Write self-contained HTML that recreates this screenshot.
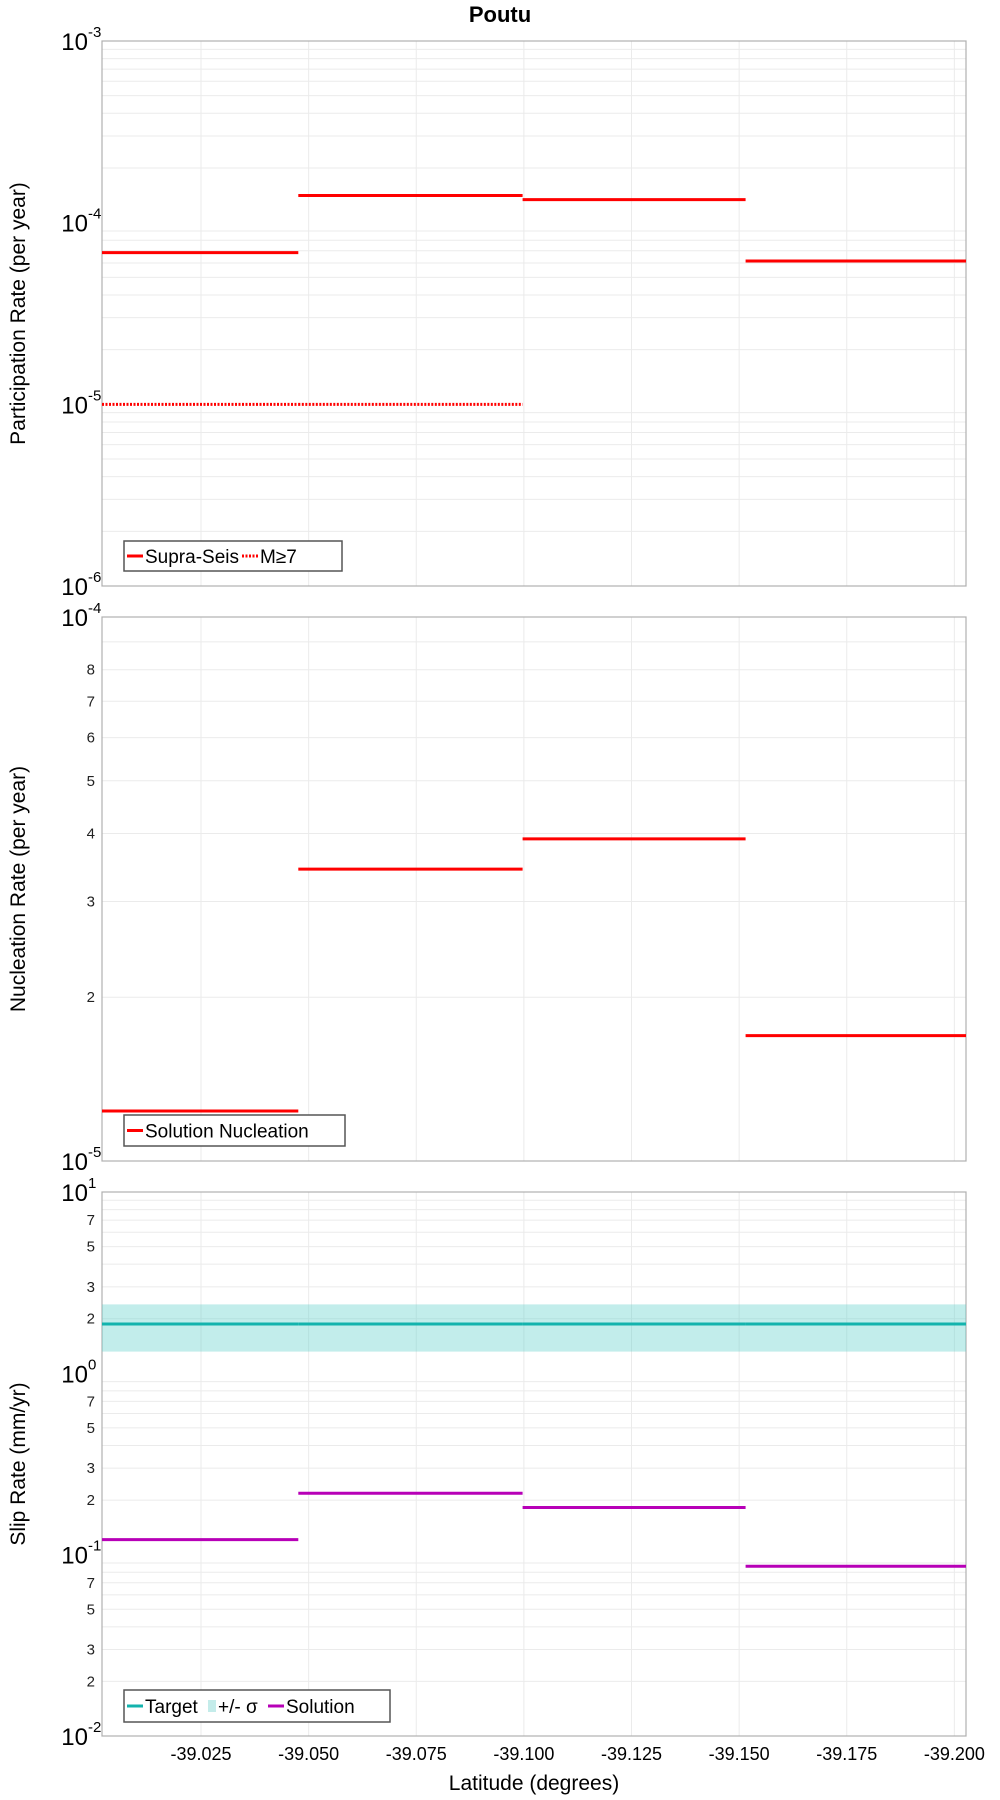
<!DOCTYPE html>
<html><head><meta charset="utf-8"><style>
body{margin:0;background:#fff;}
svg{display:block;font-family:"Liberation Sans","DejaVu Sans",sans-serif;}
</style></head><body>
<svg id="chart" width="1000" height="1800" viewBox="0 0 1000 1800"></svg>
<script>
const latBounds = [-39.002, -39.0476, -39.0997, -39.1515, -39.2027];
const xTicks = [-39.025, -39.05, -39.075, -39.1, -39.125, -39.15, -39.175, -39.2];
const xTickLabels = ["-39.025","-39.050","-39.075","-39.100","-39.125","-39.150","-39.175","-39.200"];
const supraSeis = [6.84e-5, 1.41e-4, 1.34e-4, 6.15e-5];
const m7 = [1.0e-5, 1.0e-5, null, null];
const nucleation = [1.236e-5, 3.44e-5, 3.91e-5, 1.70e-5];
const targetSlip = [1.87, 1.87, 1.87, 1.87];
const sigmaLow = 1.318;
const sigmaHigh = 2.40;
const solutionSlip = [0.121, 0.218, 0.182, 0.0863];

const NS = "http://www.w3.org/2000/svg";
const svg = document.getElementById("chart");
const L = 102, R = 966;
function mk(tag, attrs, parent) {
  const e = document.createElementNS(NS, tag);
  for (const k in attrs) e.setAttribute(k, attrs[k]);
  (parent || svg).appendChild(e);
  return e;
}
function xScale(v) { return L + (v - latBounds[0]) / (latBounds[latBounds.length - 1] - latBounds[0]) * (R - L); }
function makeY(top, bottom, lmin, lmax) {
  return v => bottom - (Math.log10(v) - lmin) / (lmax - lmin) * (bottom - top);
}

function panel(name, top, bottom, lmin, lmax, minorLabels, yTitle) {
  const y = makeY(top, bottom, lmin, lmax);
  const g = mk("g", {});
  
  
  // grid
  for (let d = lmin; d < lmax; d++) {
    for (let m = 1; m <= 9; m++) {
      const v = m * Math.pow(10, d);
      const yy = y(v);
      if (m > 1) {
        const gl = mk("line", {x1: L, x2: R, y1: yy, y2: yy, stroke: "#ebebeb", "stroke-width": 1}, g);
        
        
      }
      if (m > 1 && minorLabels.indexOf(m) >= 0) {
        const t = mk("text", {x: L - 7, y: yy + 5, "text-anchor": "end", "font-size": 15, fill: "#222"}, g);
        t.textContent = m;
        
        
      }
    }
  }
  for (let d = lmin; d <= lmax; d++) {
    const yy = y(Math.pow(10, d));
    const t = mk("text", {x: L - 14, y: yy + 9, "text-anchor": "end", "font-size": 24, fill: "#000"}, g);
    t.textContent = "10";
    
    
    const s = mk("text", {x: L - 14, y: yy - 4, "text-anchor": "start", "font-size": 15, fill: "#000"}, g);
    s.textContent = String(d);
    
    
  }
  xTicks.forEach(v => {
    const xx = xScale(v);
    const gl = mk("line", {x1: xx, x2: xx, y1: top, y2: bottom, stroke: "#ebebeb", "stroke-width": 1}, g);
    
    
  });
  const fr = mk("rect", {x: L, y: top, width: R - L, height: bottom - top, fill: "none", stroke: "#b0b0b0", "stroke-width": 1.2}, g);
  
  
  const cy = (top + bottom) / 2;
  const yt = mk("text", {x: 0, y: 0, transform: `translate(25,${cy}) rotate(-90)`, "text-anchor": "middle", "font-size": 21, fill: "#000"}, g);
  yt.textContent = yTitle;
  
  
  return {g, y};
}
function segs(p, vals, color, name, dash) {
  vals.forEach((v, i) => {
    if (v == null) return;
    const yy = p.y(v);
    const a = {x1: xScale(latBounds[i]), x2: xScale(latBounds[i + 1]), y1: yy, y2: yy, stroke: color, "stroke-width": 3};
    if (dash) a["stroke-dasharray"] = dash;
    const l = mk("line", a, p.g);
    
    
  });
}
function legend(p, x, y, w, h, items) {
  const lg = mk("g", {}, p.g);
  
  
  mk("rect", {x: x, y: y, width: w, height: h, fill: "#fff", stroke: "#555", "stroke-width": 1.5}, lg);
  let cx = x + 3;
  items.forEach(it => {
    if (it.box) {
      mk("rect", {x: cx, y: y + h / 2 - 6, width: 8, height: 12, fill: it.color}, lg);
      cx += 10;
    } else {
      const a = {x1: cx, x2: cx + 16, y1: y + h / 2, y2: y + h / 2, stroke: it.color, "stroke-width": 3};
      if (it.dash) a["stroke-dasharray"] = it.dash;
      mk("line", a, lg);
      cx += 18;
    }
    const t = mk("text", {x: cx, y: y + h / 2 + 7, "font-size": 19, fill: "#000"}, lg);
    t.textContent = it.label;
    
    
    cx += it.w;
  });
}

const title = mk("text", {x: 500, y: 22, "text-anchor": "middle", "font-size": 22, "font-weight": "bold"});
title.textContent = "Poutu";



const p1 = panel("participation-panel", 41, 586, -6, -3, [], "Participation Rate (per year)");
segs(p1, supraSeis, "#ff0000", "supra-seis-line");
segs(p1, m7, "#ff0000", "m7-line", "2,1.5");
legend(p1, 124, 541, 218, 30, [{color: "#ff0000", label: "Supra-Seis", w: 97}, {color: "#ff0000", label: "M≥7", dash: "2,1.5", w: 50}]);

const p2 = panel("nucleation-panel", 617, 1161, -5, -4, [2, 3, 4, 5, 6, 7, 8], "Nucleation Rate (per year)");
segs(p2, nucleation, "#ff0000", "nucleation-line");
legend(p2, 124, 1115, 221, 31, [{color: "#ff0000", label: "Solution Nucleation", w: 190}]);

const p3 = panel("slip-rate-panel", 1192, 1736, -2, 1, [2, 3, 5, 7], "Slip Rate (mm/yr)");
const band = mk("rect", {x: L, y: p3.y(sigmaHigh), width: R - L, height: p3.y(sigmaLow) - p3.y(sigmaHigh), fill: "#5ecfcb", "fill-opacity": 0.38}, p3.g);


segs(p3, targetSlip, "#13b3ad", "target-line");
segs(p3, solutionSlip, "#b700b7", "solution-line");
legend(p3, 124, 1690, 266, 32, [{color: "#13b3ad", label: "Target", w: 63}, {color: "#c4ecea", box: true, label: "+/- σ", w: 50}, {color: "#b700b7", label: "Solution", w: 80}]);

xTicks.forEach((v, i) => {
  const t = mk("text", {x: xScale(v), y: 1760, "text-anchor": "middle", "font-size": 18, fill: "#000"});
  t.textContent = xTickLabels[i];
  
  
});
const xt = mk("text", {x: 534, y: 1790, "text-anchor": "middle", "font-size": 21, fill: "#000"});
xt.textContent = "Latitude (degrees)";


</script>
</body></html>
